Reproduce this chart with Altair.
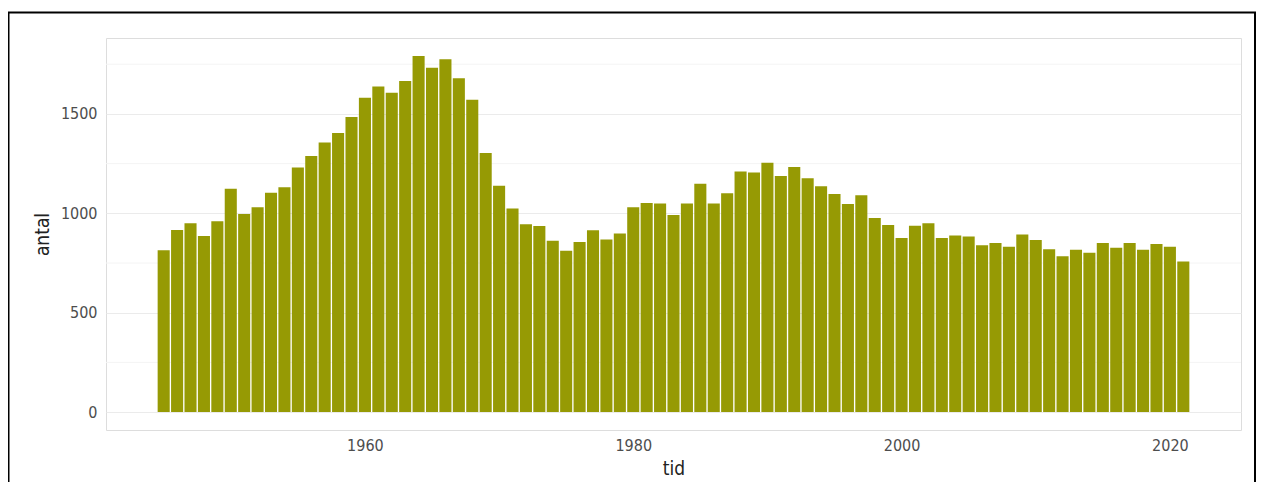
import altair as alt
import pandas as pd

years = list(range(1945, 2022))
antal = [
    814, 916, 950, 886, 960, 1124, 997, 1030, 1104, 1131,
    1230, 1289, 1356, 1404, 1485, 1581, 1638, 1606, 1666, 1792,
    1732, 1775, 1680, 1571, 1304, 1139, 1024, 945, 936, 862,
    812, 856, 915, 868, 898, 1030, 1052, 1049, 992, 1050,
    1149, 1050, 1101, 1210, 1206, 1255, 1188, 1233, 1176, 1136,
    1097, 1047, 1091, 977, 941, 876, 938, 950, 876, 889,
    883, 839, 851, 832, 893, 866, 819, 784, 817, 802,
    851, 827, 851, 817, 846, 832, 758,
]
major_ticks = [0, 500, 1000, 1500]
minor_grid = [250, 750, 1250, 1750]
x_ticks = [1960, 1980, 2000, 2020]

df = pd.DataFrame({"tid": years, "antal": antal})
minor_df = pd.DataFrame({"v": minor_grid})

FONT = "Liberation Sans Narrow, DejaVu Sans Condensed, Open Sans, sans-serif"
xscale = alt.Scale(domain=[1940.7, 2025.3], nice=False, zero=False)
yscale = alt.Scale(domain=[-90, 1882], nice=False, zero=False)

minor = alt.Chart(minor_df).mark_rule(color="#f4f4f4", strokeWidth=1).encode(
    y=alt.Y("v:Q", scale=yscale)
)

bars = (
    alt.Chart(df)
    .transform_calculate(x0="datum.tid - 0.45", x1="datum.tid + 0.45")
    .mark_rect(color="#969a04")
    .encode(
        x=alt.X(
            "x0:Q",
            scale=xscale,
            title="tid",
            axis=alt.Axis(
                values=x_ticks, format="d", grid=False, ticks=False, domain=False,
                labelFont=FONT, labelFontSize=16, labelColor="#4d4d4d",
                labelPadding=7, titleFont=FONT, titleFontSize=19,
                titleFontWeight="normal", titleColor="#222222", titlePadding=6,
            ),
        ),
        x2="x1:Q",
        y=alt.Y(
            "antal:Q",
            scale=yscale,
            title="antal",
            axis=alt.Axis(
                values=major_ticks, format="d", grid=True, gridColor="#ebebeb",
                ticks=False, domain=False, labelFont=FONT, labelFontSize=16,
                labelColor="#4d4d4d", labelPadding=9, titleFont=FONT,
                titleFontSize=19, titleFontWeight="normal", titleColor="#222222",
                titlePadding=8,
            ),
        ),
        y2=alt.datum(0),
    )
)

frame = alt.Chart(pd.DataFrame({"a": [0]})).mark_rect(
    fill=None, filled=False, stroke="black", strokeWidth=2
).encode(
    x=alt.value(-97.5), x2=alt.value(1149), y=alt.value(-25.5), y2=alt.value(470)
)

chart = (
    alt.layer(minor, bars, frame)
    .properties(
        width=1135,
        height=392,
        padding={"left": 98, "top": 30, "right": 15, "bottom": 52},
        autosize=alt.AutoSizeParams(type="none"),
    )
    .configure_view(stroke="#d4d4d4", strokeWidth=1)
    .configure(background="white")
)

chart.save("out.html", embed_options={"renderer": "svg", "actions": False})
